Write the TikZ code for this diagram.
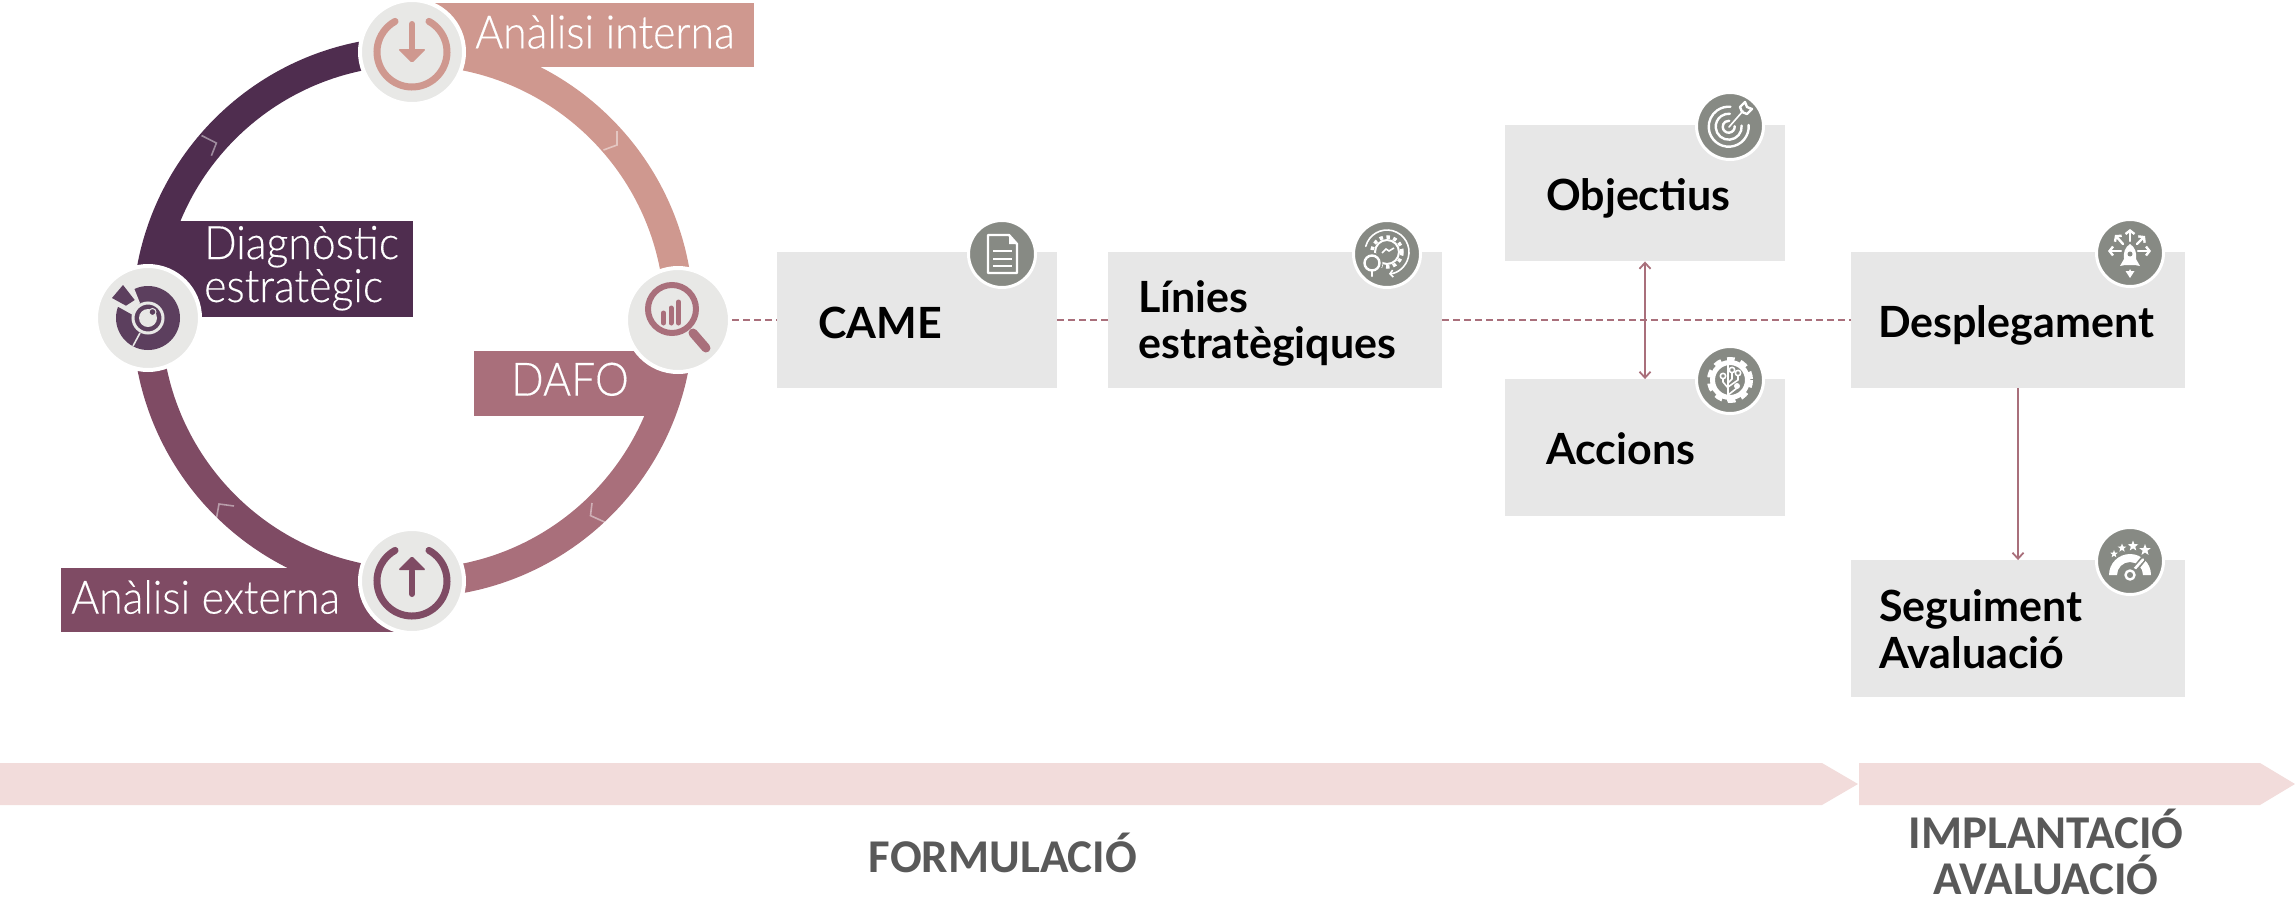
\documentclass[tikz,border=0pt]{standalone}
\usepackage{fontspec}
\setmainfont{Lato}
\newfontfamily\lightf{Lato Light}[FakeStretch=0.93,FakeBold=0.3]
\newfontfamily\boldf{Lato}[UprightFont=*-Bold]
\newfontfamily\bandf{Carlito}[UprightFont=*-Bold]
\usetikzlibrary{arrows.meta}
\definecolor{cDark}{HTML}{4F2D4F}
\definecolor{cPlum}{HTML}{7F4B64}
\definecolor{cRose}{HTML}{A96F7B}
\definecolor{cSalm}{HTML}{CF988F}
\definecolor{cDisc}{HTML}{E8E8E6}
\definecolor{cBox}{HTML}{E7E7E7}
\definecolor{cIcon}{HTML}{878A84}
\definecolor{cBand}{HTML}{F2DCDB}
\definecolor{cHead}{HTML}{595959}
\definecolor{cTarg}{HTML}{5C3F5E}
\newcommand\starat[3]{\fill[white] (#1,#2) +(-90:#3) -- +(-54:#3*.42) -- +(-18:#3) -- +(18:#3*.42) -- +(54:#3) -- +(90:#3*.42) -- +(126:#3) -- +(162:#3*.42) -- +(198:#3) -- +(234:#3*.42) -- cycle;}
\tikzset{
  x=1pt,y=-1pt,
  ringseg/.style={line width=29pt},
  ringlabel/.style={anchor=base west,inner sep=0pt,text=white,font=\lightf\fontsize{46}{46}\selectfont},
  boxlabel/.style={anchor=base west,inner sep=0pt,text=black,font=\boldf\fontsize{43}{43}\selectfont},
  bandlabel/.style={anchor=base,inner sep=0pt,text=cHead,font=\bandf\fontsize{47}{47}\selectfont},
  box/.style={fill=cBox,inner sep=0pt,minimum height=136.5pt},
  bigdisc/.style={circle,fill=cDisc,draw=white,line width=4pt,inner sep=0pt,minimum size=104pt},
  smalldisc/.style={circle,fill=cIcon,draw=white,line width=3pt,inner sep=0pt,minimum size=67pt},
  link/.style={draw=cRose,line width=1.8pt,dash pattern=on 7pt off 4pt},
  flow/.style={draw=cRose,line width=1.8pt,{Straight Barb[length=6pt,width=11pt]}-{Straight Barb[length=6pt,width=11pt]}},
  flowd/.style={draw=cRose,line width=1.8pt,-{Straight Barb[length=6pt,width=11pt]}},
  chev/.style={draw=white,draw opacity=.45,line width=1.6pt},
  iw/.style={draw=white,line width=1.6pt,line cap=round,line join=round},
  iwt/.style={draw=white,line width=2.4pt,line cap=round,line join=round},
  ia/.style={iwt,-{Straight Barb[length=3.5pt,width=9pt]}},
}
\begin{document}
\begin{tikzpicture}
\useasboundingbox (0,0) rectangle (2295,903);
% bands
\fill[cBand] (0,763) -- (1822,763) -- (1858,784) -- (1822,805) -- (0,805) -- cycle;
\fill[cBand] (1859,763) -- (2260,763) -- (2295,784) -- (2260,805) -- (1859,805) -- cycle;
\node[bandlabel] (fml) at (1003,872) {FORMULACIÓ};
\node[bandlabel] (imp) at (2046,848) {IMPLANTACIÓ};
\node[bandlabel] (ava) at (2046,894) {AVALUACIÓ};
% ring
\draw[ringseg,cSalm] (413,51) arc[start angle=-90,end angle=0,radius=266];
\draw[ringseg,cRose] (679,317) arc[start angle=0,end angle=90,radius=266];
\draw[ringseg,cPlum] (413,583) arc[start angle=90,end angle=180,radius=266];
\draw[ringseg,cDark] (147,317) arc[start angle=180,end angle=270,radius=266];
% label plates
\fill[cSalm] (425,3) rectangle (754,67);
\fill[cDark] (150,221) rectangle (413,317);
\fill[cRose] (474,351) rectangle (670,416);
\fill[cPlum] (61,568) rectangle (395,632);
% chevrons
\draw[chev] (201.5,135.5) -- (216.4,143) -- (211.4,155.7);
\draw[chev] (617,131) -- (617,145) -- (603.5,150);
\draw[chev] (592,503) -- (590.5,515.6) -- (604.5,522);
\draw[chev] (234,506) -- (219,504) -- (216.4,518.5);
% ring icons
\node[bigdisc] (icT) at (412,52) {};
\node[bigdisc] (icB) at (412,581) {};
\node[bigdisc] (icL) at (148,318) {};
\node[bigdisc] (icR) at (678,320) {};
\begin{scope}[shift={(412,52)}]
  \draw[cSalm,line width=7pt,line cap=round] (-61:35) arc[start angle=-61,end angle=241,radius=35];
  \draw[cSalm,line width=6pt,line cap=round] (0,-28) -- (0,0);
  \fill[cSalm,rounded corners=1.5pt] (-14,-3) -- (14,-3) -- (0,11) -- cycle;
\end{scope}
\begin{scope}[shift={(412,581)}]
  \draw[cPlum,line width=7pt,line cap=round] (-61:35) arc[start angle=-61,end angle=241,radius=35];
  \draw[cPlum,line width=6pt,line cap=round] (0,-10) -- (0,13);
  \fill[cPlum,rounded corners=1.5pt] (-14,-11) -- (14,-11) -- (0,-25) -- cycle;
\end{scope}
\begin{scope}[shift={(148,318)}]
  \fill[cTarg] (0,0) circle[radius=32];
  \fill[cDisc] (-14,-30) -- (-8,-15) -- (-15,-3) -- (-33,-13) -- (-36,-34) -- cycle;
  \fill[cTarg] (-25,-33) -- (-13.3,-18) -- (-22,-12.3) -- (-36,-20) -- cycle;
  \draw[cDisc,line width=1.6pt] (-8,15) -- (-15,28);
  \fill[cTarg] (0,0) circle[radius=16];
  \draw[cDisc,line width=3pt] (0,0) circle[radius=15];
  \fill[cDisc] (0,0) circle[radius=9];
  \fill[cTarg,draw=cDisc,line width=1pt] (4.5,-6) circle[radius=3.5];
\end{scope}
\begin{scope}[shift={(678,320)}]
  \draw[cRose,line width=6pt] (-6,-11) circle[radius=24];
  \draw[cRose,line width=9pt,line cap=round] (15,13) -- (28,28);
  \draw[cRose,line width=5pt,line cap=round] (-14.5,3) -- (-14.5,-7);
  \draw[cRose,line width=5pt,line cap=round] (-7,3) -- (-7,-12);
  \draw[cRose,line width=5pt,line cap=round] (0.5,3) -- (0.5,-18);
\end{scope}
% ring labels
\node[ringlabel] (tI) at (475,48.4) {Anàlisi interna};
\node[ringlabel] (tD) at (204,259) {Diagnòstic};
\node[ringlabel] (tE) at (204,302) {estratègic};
\node[ringlabel] (tF) at (511,395.6) {DAFO};
\node[ringlabel] (tX) at (71,613.6) {Anàlisi externa};
% boxes
\node[box,minimum width=280pt] (came) at (917,320) {};
\node[box,minimum width=334pt] (lin) at (1275,320) {};
\node[box,minimum width=280pt] (obj) at (1645,193) {};
\node[box,minimum width=280pt] (acc) at (1645,447.5) {};
\node[box,minimum width=334pt] (des) at (2018,320) {};
\node[box,minimum width=334pt] (seg) at (2018,628.5) {};
% connectors
\draw[link] (icR) -- (came);
\draw[link] (came) -- (lin);
\draw[link] (lin) -- (des);
\draw[flow] (obj) -- (acc);
\draw[flowd] (des) -- (seg);
% box labels
\node[boxlabel] (t1) at (818,338) {CAME};
\node[boxlabel] (t2) at (1138,312) {Línies};
\node[boxlabel] (t3) at (1138,358) {estratègiques};
\node[boxlabel] (t4) at (1546,210) {Objectius};
\node[boxlabel] (t5) at (1546,464) {Accions};
\node[boxlabel] (t6) at (1878,337) {Desplegament};
\node[boxlabel] (t7) at (1879,621.5) {Seguiment};
\node[boxlabel] (t8) at (1879,668) {Avaluació};
% small icons
\node[smalldisc] (d1) at (1002,254) {};
\node[smalldisc] (d2) at (1387,254) {};
\node[smalldisc] (d3) at (1730,126) {};
\node[smalldisc] (d4) at (1730,380) {};
\node[smalldisc] (d5) at (2130,253) {};
\node[smalldisc] (d6) at (2130,561) {};
\begin{scope}[shift={(1002,254)}]
  \draw[iwt] (-14,-19) -- (7,-19) -- (15,-10) -- (15,19) -- (-14,19) -- cycle;
  \fill[white] (7,-19) -- (15,-10) -- (7,-10) -- cycle;
  \draw[white,line width=2.6pt] (-9,-3) -- (10,-3) (-9,5) -- (10,5) (-9,12) -- (10,12);
\end{scope}
\begin{scope}[shift={(1387,254)}]
  \draw[iw,-{Straight Barb[length=3pt,width=7pt]}] (195:22)++(0,-2) arc[start angle=195,end angle=445,radius=22];
  \draw[white,line width=3.5pt,dash pattern=on 3.5pt off 3.5pt] (0,-2) circle[radius=15];
  \draw[white,line width=2pt] (0,-2) circle[radius=12];
  \draw[white,line width=1.6pt] (-5,-1) -- (-1,-5) -- (2,-3) -- (7,-6);
  \fill[cIcon] (-15,9) circle[radius=10.5];
  \draw[iwt] (-15,9) circle[radius=7.5];
  \draw[iwt] (-15,17) -- (-15,22);
\end{scope}
\begin{scope}[shift={(1730,126)}]
  \draw[iwt] (-1.3,0.7) ++(-5:20) arc[start angle=-5,end angle=275,radius=20];
  \draw[iwt] (-1.3,0.7) ++(-5:13) arc[start angle=-5,end angle=275,radius=13];
  \draw[iwt] (-1.3,0.7) ++(-5:6) arc[start angle=-5,end angle=275,radius=6];
  \draw[iw] (-1,1) -- (13,-15);
  \draw[iwt] (12,-14) -- (10,-19) -- (15,-24) -- (17,-19) -- (22,-17) -- (17,-12) -- cycle;
\end{scope}
\begin{scope}[shift={(1730,380)}]
  \draw[white,line width=5pt] (0,0) circle[radius=17.5];
  \draw[white,line width=4pt,dash pattern=on 7.5pt off 6.2pt] (0,0) circle[radius=21];
  \draw[iw] (-2,-21) -- (-2,21);
  \draw[iw] (-7,-1) -- (-7,2) -- (-2,8);
  \draw[iw] (-7,-4) circle[radius=2.7];
  \draw[iw] (2,-7) -- (2,-1) -- (-2,3);
  \draw[iw] (2,-10) circle[radius=2.7];
  \draw[iw] (8,-4) -- (8,0) -- (-2,7);
  \draw[iw] (8,-7) circle[radius=2.7];
  \draw[iw] (7,8) -- (-2,15);
  \fill[white] (7,6) circle[radius=3];
\end{scope}
\begin{scope}[shift={(2130,253)}]
  \fill[white] (0,-9) .. controls (5,-6) and (7,0) .. (6,6) -- (10,13) -- (5,12) -- (-5,12) -- (-10,13) -- (-6,6) .. controls (-7,0) and (-5,-6) .. (0,-9) -- cycle;
  \fill[cIcon] (0,1) circle[radius=2.5];
  \fill[white] (-4.5,18) -- (-1,18) -- (0,16) -- (1,18) -- (4.5,18) -- (0,25) -- cycle;
  \draw[ia] (-9,-2) -- (-22,-2);
  \draw[ia] (8,-2) -- (21,-2);
  \draw[ia] (0,-12) -- (0,-24);
  \draw[ia] (-7,-9) -- (-15,-18);
  \draw[ia] (7,-9) -- (15,-17);
\end{scope}
\begin{scope}[shift={(2130,561)}]
  \fill[white] (-21,14) arc[start angle=180,end angle=360,radius=21] -- (13,14) arc[start angle=360,end angle=180,radius=13] -- cycle;
  \draw[cIcon,line width=6pt] (1,13) -- (14,-3);
  \draw[white,line width=2.6pt,line cap=round] (1,12) -- (13,-1.5);
  \fill[cIcon] (0,14) circle[radius=8];
  \draw[iwt] (0,14) circle[radius=4.5];
  \starat{-16}{-7}{4}
  \starat{-8}{-13}{4.5}
  \starat{3}{-15}{5.5}
  \starat{15}{-11}{6}
\end{scope}
\end{tikzpicture}
\end{document}
